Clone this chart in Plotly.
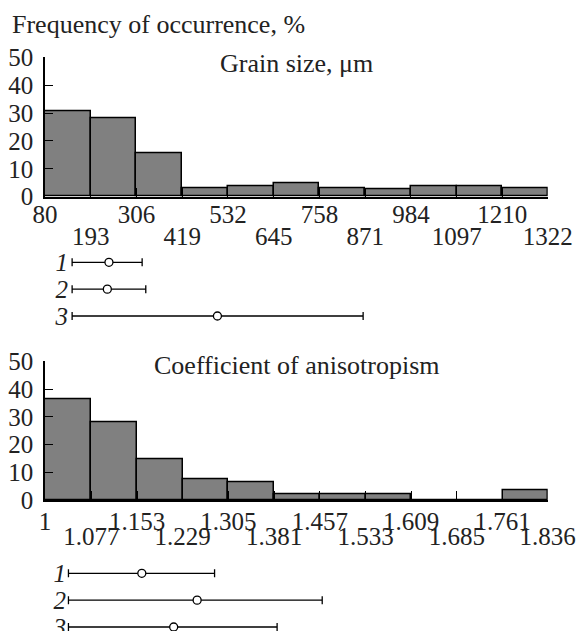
import plotly.graph_objects as go

# ---------------- data ----------------
grain_edges = [80, 193, 306, 419, 532, 645, 758, 871, 984, 1097, 1210, 1322]
grain_labels = ["80", "193", "306", "419", "532", "645", "758", "871", "984", "1097", "1210", "1322"]
grain_freq = [30.7, 28.3, 15.4, 3.0, 3.9, 4.9, 3.0, 2.6, 3.9, 3.9, 3.0]

aniso_edges = [1.0, 1.077, 1.153, 1.229, 1.305, 1.381, 1.457, 1.533, 1.609, 1.685, 1.761, 1.836]
aniso_labels = ["1", "1.077", "1.153", "1.229", "1.305", "1.381", "1.457", "1.533", "1.609", "1.685", "1.761", "1.836"]
aniso_freq = [36.3, 28.0, 14.5, 7.3, 6.5, 2.0, 2.0, 2.0, 0.0, 0.0, 3.6]

y_ticks = [0, 10, 20, 30, 40, 50]

row_ids = [1, 2, 3]
row_labels = ["1", "2", "3"]
grain_low = [147, 147, 147]
grain_mean = [238, 234, 506]
grain_high = [320, 329, 866]
aniso_low = [1.039, 1.039, 1.039]
aniso_mean = [1.161, 1.253, 1.214]
aniso_high = [1.282, 1.461, 1.386]

# ---------------- helpers ----------------
W, H = 578, 631
FONT = "Liberation Serif, Times New Roman, serif"


def px(x):
    return x / W


def py(y):
    return 1 - y / H


def mids(e):
    return [(a + b) / 2 for a, b in zip(e[:-1], e[1:])]


def widths(e):
    return [b - a for a, b in zip(e[:-1], e[1:])]


XD = [px(45), px(547.7)]

fig = go.Figure()

# histograms
fig.add_trace(go.Bar(x=mids(grain_edges), y=grain_freq, width=widths(grain_edges),
                     marker=dict(color="#808080", line=dict(color="black", width=1.5)),
                     xaxis="x", yaxis="y", showlegend=False, hoverinfo="skip"))
fig.add_trace(go.Bar(x=mids(aniso_edges), y=aniso_freq, width=widths(aniso_edges),
                     marker=dict(color="#808080", line=dict(color="black", width=1.5)),
                     xaxis="x2", yaxis="y2", showlegend=False, hoverinfo="skip"))

# whiskers
def whisk(low, mean, high, xa, ya):
    return go.Scatter(
        x=mean, y=row_ids, mode="markers", xaxis=xa, yaxis=ya,
        marker=dict(symbol="circle", size=8, color="white", line=dict(color="black", width=1.3)),
        error_x=dict(type="data", symmetric=False,
                     array=[h - m for h, m in zip(high, mean)],
                     arrayminus=[m - l for m, l in zip(mean, low)],
                     color="black", thickness=1.3, width=4),
        cliponaxis=False, showlegend=False, hoverinfo="skip")


fig.add_trace(whisk(grain_low, grain_mean, grain_high, "x", "y3"))
fig.add_trace(whisk(aniso_low, aniso_mean, aniso_high, "x2", "y4"))

# dummy traces so the label axes render
for xa, ya, e in (("x3", "y", grain_edges), ("x4", "y", grain_edges),
                  ("x5", "y2", aniso_edges), ("x6", "y2", aniso_edges)):
    fig.add_trace(go.Scatter(x=e, y=[0] * len(e), xaxis=xa, yaxis=ya, mode="markers",
                             marker=dict(opacity=0), showlegend=False, hoverinfo="skip"))

tickfont = dict(family=FONT, size=25, color="#222")

common_x = dict(showgrid=False, zeroline=False, showline=True, linecolor="black", linewidth=1.5,
                ticks="inside", ticklen=9, tickwidth=1.2, tickcolor="black", showticklabels=False,
                automargin=False)
common_y = dict(showgrid=False, zeroline=False, showline=True, linecolor="black", linewidth=1.5,
                ticks="inside", ticklen=8, tickwidth=1.2, tickcolor="black",
                tickvals=y_ticks, tickfont=tickfont, range=[0, 50], ticklabelstandoff=5,
                automargin=False)

lab_x = dict(showgrid=False, zeroline=False, showline=False, ticks="", tickfont=tickfont,
             anchor="free", automargin=False, ticklabeloverflow="allow")

wy = dict(showgrid=False, zeroline=False, showline=False, ticks="", tickvals=row_ids,
          ticktext=row_labels, anchor="free", automargin=False, ticklabeloverflow="allow",
          tickfont=dict(family=FONT, size=25, color="#222", style="italic"))

fig.update_layout(
    width=W, height=H, margin=dict(l=0, r=0, t=0, b=0, pad=0, autoexpand=False),
    paper_bgcolor="white", plot_bgcolor="white", bargap=0,
    xaxis=dict(domain=XD, range=[grain_edges[0], grain_edges[-1]], anchor="y",
               tickvals=grain_edges, **common_x),
    yaxis=dict(domain=[py(196.7), py(57.3)], anchor="x", **common_y),
    xaxis2=dict(domain=XD, range=[aniso_edges[0], aniso_edges[-1]], anchor="y2",
                tickvals=aniso_edges, **common_x),
    yaxis2=dict(domain=[py(500), py(361.3)], anchor="x2", **common_y),
    xaxis3=dict(overlaying="x", range=[grain_edges[0], grain_edges[-1]], position=py(197),
                tickvals=grain_edges[0::2], ticktext=grain_labels[0::2], **lab_x),
    xaxis4=dict(overlaying="x", range=[grain_edges[0], grain_edges[-1]], position=py(219),
                tickvals=grain_edges[1::2], ticktext=grain_labels[1::2], **lab_x),
    xaxis5=dict(overlaying="x2", range=[aniso_edges[0], aniso_edges[-1]], position=py(503.5),
                tickvals=aniso_edges[0::2], ticktext=aniso_labels[0::2], **lab_x),
    xaxis6=dict(overlaying="x2", range=[aniso_edges[0], aniso_edges[-1]], position=py(519),
                tickvals=aniso_edges[1::2], ticktext=aniso_labels[1::2], **lab_x),
    yaxis3=dict(domain=[py(330), py(245)],
                range=[3 + (330 - 316) / 26.85, 1 - (262.3 - 245) / 26.85],
                position=px(68), **wy),
    yaxis4=dict(domain=[0, py(550)],
                range=[3 + (631 - 627) / 26.85, 1 - (573.3 - 550) / 26.85],
                position=px(66), **wy),
    annotations=[
        dict(text="Frequency of occurrence, %", x=px(10), y=py(24), xref="paper", yref="paper",
             xanchor="left", yanchor="middle", showarrow=False,
             font=dict(family=FONT, size=26, color="#222")),
        dict(text="Grain size, μm", x=px(296), y=py(63), xref="paper", yref="paper",
             xanchor="center", yanchor="middle", showarrow=False,
             font=dict(family=FONT, size=26, color="#222")),
        dict(text="Coefficient of anisotropism", x=px(296), y=py(366), xref="paper", yref="paper",
             xanchor="center", yanchor="middle", showarrow=False,
             font=dict(family=FONT, size=26, color="#222")),
    ],
)

fig.write_html("out.html", config={"displayModeBar": False},
               post_script="document.body.style.margin='0px';document.body.style.padding='0px';")
